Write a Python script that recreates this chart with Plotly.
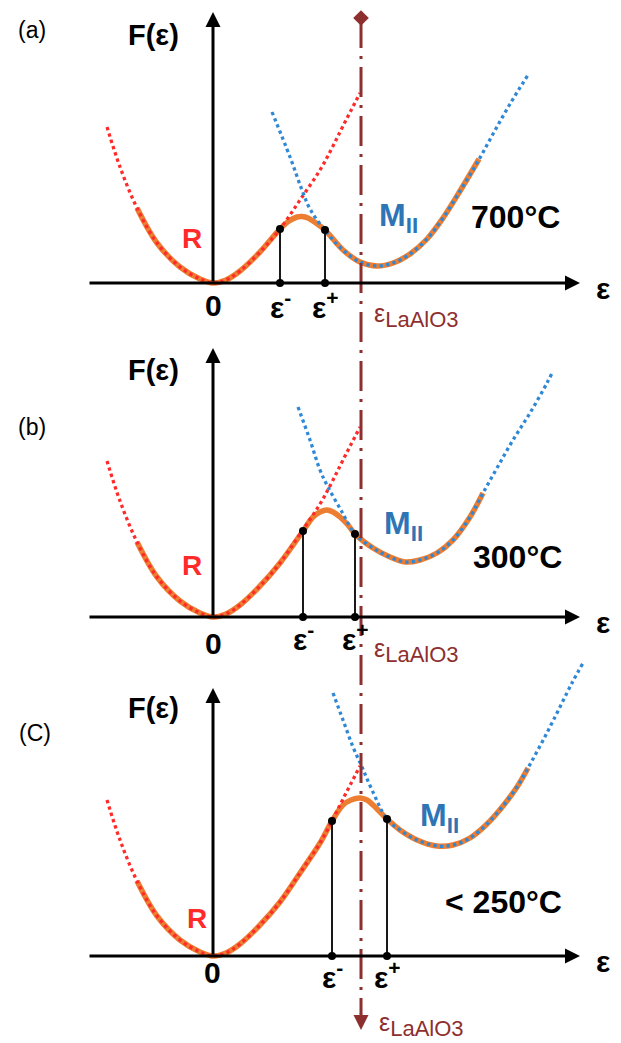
import plotly.graph_objects as go

# ---------------- data (strain ε and free energy F(ε), arbitrary units) ----------------
# Rhombohedral R branch (identical in the three panels)
r_eps = [-1.06, -0.93, -0.76, -0.56, -0.33, -0.13, 0.0, 0.13, 0.27, 0.47, 0.67, 0.87, 1.07, 1.19, 1.30, 1.47]
r_F = [1.56, 1.16, 0.75, 0.40, 0.16, 0.04, 0.0, 0.03, 0.12, 0.31, 0.54, 0.83, 1.13, 1.35, 1.57, 1.90]

# Monoclinic M_II branch, one per temperature
m_eps_a = [0.59, 0.77, 0.89, 0.97, 1.14, 1.30, 1.47, 1.64, 1.80, 1.97, 2.14, 2.30, 2.47, 2.64, 2.80, 2.97, 3.15]
m_F_a = [1.71, 1.26, 0.93, 0.74, 0.50, 0.33, 0.21, 0.17, 0.20, 0.29, 0.44, 0.65, 0.92, 1.20, 1.49, 1.79, 2.08]
m_eps_b = [0.85, 0.97, 1.07, 1.15, 1.29, 1.42, 1.60, 1.77, 1.92, 2.07, 2.24, 2.40, 2.57, 2.70, 2.84, 3.00, 3.17, 3.34, 3.39]
m_F_b = [2.10, 1.77, 1.47, 1.30, 1.05, 0.83, 0.69, 0.60, 0.55, 0.57, 0.64, 0.77, 1.00, 1.24, 1.49, 1.77, 2.04, 2.34, 2.44]
m_eps_c = [1.20, 1.30, 1.40, 1.49, 1.59, 1.74, 1.87, 2.04, 2.24, 2.40, 2.57, 2.74, 2.90, 3.04, 3.15, 3.27, 3.40, 3.59, 3.70]
m_F_c = [2.63, 2.36, 2.09, 1.89, 1.66, 1.37, 1.26, 1.16, 1.10, 1.11, 1.18, 1.32, 1.50, 1.69, 1.88, 2.10, 2.35, 2.73, 2.93]

# Resulting (stable) free-energy curve, one per temperature
o_eps_a = [-0.76, -0.56, -0.33, -0.13, 0.0, 0.13, 0.27, 0.47, 0.67, 0.76, 0.84, 0.89, 0.95, 1.03, 1.12,
           1.30, 1.47, 1.64, 1.80, 1.97, 2.14, 2.30, 2.47, 2.66]
o_F_a = [0.75, 0.40, 0.16, 0.04, 0.0, 0.03, 0.12, 0.31, 0.54, 0.62, 0.66, 0.665, 0.65, 0.60, 0.53,
         0.33, 0.21, 0.17, 0.20, 0.29, 0.44, 0.65, 0.92, 1.24]
o_eps_b = [-0.76, -0.56, -0.33, -0.13, 0.0, 0.13, 0.27, 0.47, 0.67, 0.90, 1.00, 1.07, 1.14, 1.20, 1.27,
           1.35, 1.42, 1.60, 1.77, 1.92, 2.07, 2.24, 2.40, 2.57, 2.70]
o_F_b = [0.75, 0.40, 0.16, 0.04, 0.0, 0.03, 0.12, 0.31, 0.54, 0.86, 1.00, 1.05, 1.07, 1.05, 1.00,
         0.92, 0.83, 0.69, 0.60, 0.55, 0.57, 0.64, 0.77, 1.00, 1.24]
o_eps_c = [-0.76, -0.56, -0.33, -0.13, 0.0, 0.13, 0.27, 0.47, 0.67, 0.87, 1.07, 1.19, 1.30, 1.38, 1.47,
           1.54, 1.60, 1.74, 1.87, 2.04, 2.24, 2.40, 2.57, 2.74, 2.90, 3.04, 3.15]
o_F_c = [0.75, 0.40, 0.16, 0.04, 0.0, 0.03, 0.12, 0.31, 0.54, 0.83, 1.13, 1.35, 1.51, 1.56, 1.58,
         1.56, 1.51, 1.37, 1.26, 1.16, 1.10, 1.11, 1.18, 1.32, 1.50, 1.69, 1.88]

# Spinodal points ε-, ε+ and their free energy
eps_minus = [0.67, 0.90, 1.19]
eps_plus = [1.12, 1.42, 1.74]
F_minus = [0.54, 0.86, 1.35]
F_plus = [0.53, 0.83, 1.37]

eps_LaAlO3 = 1.48
panel_tags = ["(a)", "(b)", "(C)"]
temperatures = ["700°C", "300°C", "< 250°C"]

# ---------------- styling ----------------
FONT = "Liberation Sans, Arial, sans-serif"
ORANGE = "#ED7D31"
RED = "#FF2A2A"
BLUE = "#2F88D6"
MBLUE = "#2E75B6"
BROWN = "#8E2F2F"
BLACK = "#000000"

W, H = 621, 1043
yrefs = ["y", "y2", "y3"]
yranges = [[-7.60, 2.83], [-4.26, 6.17], [-0.87, 9.56]]
y_tips = [2.71, 2.69, 2.68]

m_sets = [(m_eps_a, m_F_a), (m_eps_b, m_F_b), (m_eps_c, m_F_c)]
o_sets = [(o_eps_a, o_F_a), (o_eps_b, o_F_b), (o_eps_c, o_F_c)]

# label placements per panel
lab = [
    dict(tag=(-1.81, 2.53), F=(-0.60, 2.48), zero=(0.0, -0.22), eps=-0.22, R=(-0.21, 0.45),
         M=(1.64, 0.66), T=(3.02, 0.66), L=(1.59, -0.32)),
    dict(tag=(-1.81, 1.90), F=(-0.60, 2.47), zero=(0.0, -0.26), eps=-0.20, R=(-0.21, 0.52),
         M=(1.69, 0.92), T=(3.04, 0.60), L=(1.59, -0.33)),
    dict(tag=(-1.78, 2.23), F=(-0.60, 2.48), zero=(-0.01, -0.16), eps=-0.19, R=(-0.16, 0.38),
         M=(2.05, 1.39), T=(2.90, 0.54), L=(1.64, -0.68)),
]

fig = go.Figure()
ann = []

for i in range(3):
    ya = yrefs[i]
    me, mF = m_sets[i]
    oe, oF = o_sets[i]
    # stable envelope
    fig.add_trace(go.Scatter(x=oe, y=oF, yaxis=ya, mode="lines", line_shape="spline",
                             line=dict(color=ORANGE, width=5.5), hoverinfo="skip"))
    # R branch
    fig.add_trace(go.Scatter(x=r_eps, y=r_F, yaxis=ya, mode="lines", line_shape="spline",
                             line=dict(color=RED, width=3.3, dash="3.3px,3.3px"), hoverinfo="skip"))
    # M_II branch
    fig.add_trace(go.Scatter(x=me, y=mF, yaxis=ya, mode="lines", line_shape="spline",
                             line=dict(color=BLUE, width=3.3, dash="3.3px,3.3px"), hoverinfo="skip"))
    # spinodal verticals and dots
    for e, f in ((eps_minus[i], F_minus[i]), (eps_plus[i], F_plus[i])):
        fig.add_trace(go.Scatter(x=[e, e], y=[0, f], yaxis=ya, mode="lines+markers",
                                 line=dict(color=BLACK, width=1.8),
                                 marker=dict(color=BLACK, size=8), cliponaxis=False,
                                 hoverinfo="skip"))

    L = lab[i]
    # axes as arrows
    ann.append(dict(x=3.67, y=0, ax=-1.25, ay=0, xref="x", yref=ya, axref="x", ayref=ya,
                    showarrow=True, arrowhead=2, arrowsize=1.0, arrowwidth=3, arrowcolor=BLACK, text=""))
    ann.append(dict(x=0, y=y_tips[i], ax=0, ay=0, xref="x", yref=ya, axref="x", ayref=ya,
                    showarrow=True, arrowhead=2, arrowsize=1.0, arrowwidth=3, arrowcolor=BLACK, text=""))

    def txt(t, xy, size, color=BLACK, xanchor="center"):
        ann.append(dict(x=xy[0], y=xy[1], xref="x", yref=ya, text=t, showarrow=False,
                        xanchor=xanchor, yanchor="middle",
                        font=dict(family=FONT, size=size, color=color)))

    txt(panel_tags[i], L["tag"], 23)
    txt("<b>F(ε)</b>", L["F"], 29)
    txt("<b>0</b>", L["zero"], 30)
    txt("<b>ε<sup>-</sup></b>", (eps_minus[i], L["eps"]), 30)
    txt("<b>ε<sup>+</sup></b>", (eps_plus[i], L["eps"]), 30)
    txt("<b>ε</b>", (3.90, -0.05), 30)
    txt("<b>R</b>", L["R"], 28, RED)
    txt("<b>M<sub>II</sub></b>", L["M"], 32, MBLUE, xanchor="left")
    txt("<b>" + temperatures[i] + "</b>", L["T"], 32)
    txt("ε<sub><span style='font-size:22px'>LaAlO3</span></sub>", L["L"], 25, BROWN, xanchor="left")

# ε_LaAlO3 reference line across the three panels
fig.add_trace(go.Scatter(x=[eps_LaAlO3, eps_LaAlO3], y=[9.38, -0.58], yaxis="y3", mode="lines",
                         line=dict(color=BROWN, width=3, dash="30px,8px,3px,8px"), hoverinfo="skip"))
fig.add_trace(go.Scatter(x=[eps_LaAlO3], y=[9.38], yaxis="y3", mode="markers",
                         marker=dict(symbol="diamond", color=BROWN, size=12), cliponaxis=False,
                         hoverinfo="skip"))
ann.append(dict(x=eps_LaAlO3, y=-0.74, ax=eps_LaAlO3, ay=-0.56, xref="x", yref="y3", axref="x",
                ayref="y3", showarrow=True, arrowhead=2, arrowsize=1.0, arrowwidth=3,
                arrowcolor=BROWN, text=""))

ax_hidden = dict(visible=False, showgrid=False, zeroline=False, fixedrange=True)
fig.update_layout(
    width=W, height=H, margin=dict(l=0, r=0, t=0, b=0),
    paper_bgcolor="white", plot_bgcolor="white", showlegend=False,
    xaxis=dict(range=[-2.13, 4.08], domain=[0, 1], **ax_hidden),
    yaxis=dict(range=yranges[0], domain=[0, 1], **ax_hidden),
    yaxis2=dict(range=yranges[1], domain=[0, 1], overlaying="y", **ax_hidden),
    yaxis3=dict(range=yranges[2], domain=[0, 1], overlaying="y", **ax_hidden),
    annotations=ann,
)

fig.write_html("out.html", config={"displayModeBar": False},
               post_script="document.body.style.margin='0px';document.body.style.overflow='hidden';")
